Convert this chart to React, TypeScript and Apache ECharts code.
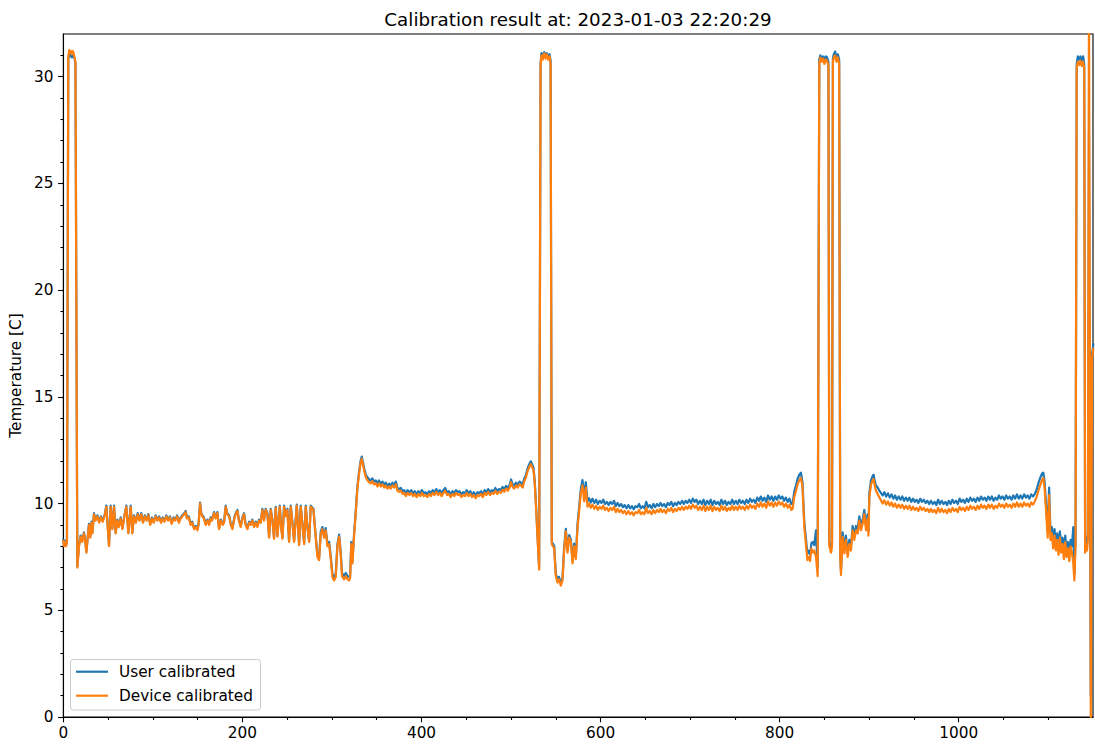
import { useEffect, useRef } from "react";
import * as echarts from "echarts";

const chartTitle = "Calibration result at: 2023-01-03 22:20:29";
const yAxisTitle = "Temperature [C]";
const seriesNames = ["User calibrated", "Device calibrated"];
const seriesColors = ["#1f77b4", "#ff7f0e"];
const xRange = [0, 1150];
const yRange = [0, 32];
const xMajorTicks = [0, 200, 400, 600, 800, 1000];
const xMinorTicks = [50, 100, 150, 250, 300, 350, 450, 500, 550, 650, 700, 750, 850, 900, 950, 1050, 1100];
const yMajorTicks = [0, 5, 10, 15, 20, 25, 30];
const yMinorTicks = [1, 2, 3, 4, 6, 7, 8, 9, 11, 12, 13, 14, 16, 17, 18, 19, 21, 22, 23, 24, 26, 27, 28, 29, 31];

const deviceCalibrated: number[][] = [
  [0,8.3],[1,8.0],[2,8.2],[3,8.0],[4,8.2],[5.5,30.9],[6.5,31.25],[7.5,31.1],[8.5,31.2],[9.5,31.05],[10.5,31.2],[11.5,31.1],[12.5,30.9],[13.5,30.7],
  [15.6,7.0],[17.5,8.0],[19.3,8.45],[21,8.2],[23,8.6],[24.5,8.2],[25.7,7.7],[27,8.3],[28.6,9.0],[30,8.4],[31.5,9.1],[32.4,8.6],[34.2,9.5],[36,9.2],[38,9.4],[40,9.1],[42,9.35],[44,9.15],[46,9.4],[48,9.85],[51,8.0],[52.8,9.85],[54.7,8.8],[56.6,9.85],[58.4,8.6],[60.3,9.2],[62,8.9],[64,9.3],[66,8.8],[68,9.35],[70.3,9.85],[72.6,8.6],[75.2,9.85],[77,8.6],[78.9,9.4],[81,9.1],[83,9.5],[85,9.2],[87,9.5],[89,9.1],[91,9.4],[93,9.2],[95,9.45],[97,9.0],[99,9.3],[101,9.1],[103,9.4],[105,9.2],[107,9.35],[109,9.1],[111,9.3],[113,9.15],[115,9.4],[117,9.2],[119,9.35],[121,9.05],[123,9.3],[125,9.2],[127,9.4],[129,9.1],[131,9.3],[133,9.4],[135,9.5],[136.6,9.6],[138,9.3],[140,9.35],[142.2,9.0],[144,9.1],[146,8.8],[148,8.9],[149.7,8.75],[151,9.0],[152.7,10.0],[154,9.5],[155.3,9.4],[157,9.3],[159,9.0],[161,9.2],[162.7,9.0],[164.5,9.3],[166,9.2],[168.3,9.55],[170,9.3],[172,9.55],[173.9,8.8],[176,9.2],[178,9.0],[179.5,9.1],[181.3,9.85],[183,9.5],[185.1,9.4],[187,9.0],[188.8,8.8],[191,9.3],[192.5,9.5],[194.4,9.65],[196,9.2],[198.1,8.9],[200,9.3],[201.8,9.5],[203.5,9.0],[205.5,8.8],[207.5,9.1],[209.3,9.0],[211,9.2],[213,8.9],[215,9.1],[216.7,8.9],[218.5,9.2],[220.4,9.1],[222.3,9.7],[224,9.2],[226,9.7],[227.9,9.5],[229.8,8.4],[231.6,9.7],[233.5,9.2],[235.3,8.35],[237.2,9.8],[239.1,8.45],[241.7,9.85],[243,9.0],[244.7,8.35],[246.5,9.85],[248.5,9.4],[250.2,9.7],[252.1,8.2],[254,9.85],[256,9.0],[257.7,8.2],[260.7,9.9],[263.3,8.05],[265.1,9.85],[267,9.0],[268.9,8.1],[270.7,9.85],[272.5,8.9],[274.5,8.2],[276.3,9.85],[279.3,9.7],[281.9,8.4],
  [283.7,7.5],[285.6,7.35],[287.5,8.6],[289.3,8.8],[291.2,8.4],[293,8.75],[294.9,8.0],[296.8,8.1],[298.7,7.4],[300.5,6.55],[302.4,6.4],[304.2,6.55],[306.1,8.0],[308,8.45],[309.8,7.6],[311.2,6.6],[313.6,6.45],[315.4,6.6],[317.3,6.45],[319.1,6.4],[320.3,6.5],[321.6,8.1],[322.9,7.2],[324.7,8.5],[326.5,9.5],[328.4,10.7],[330.3,11.4],[332,11.9],[333.3,12.1],[334.5,11.85],[335.9,11.55],
  [338,11.2],[339.6,11.1],[341.5,11.0],[343.4,10.95],[345,11.05],[347,10.9],[349,10.95],[350.8,10.8],[352.5,10.95],[354.5,10.8],[356.5,10.9],[358.3,10.75],[360,10.85],[362,10.7],[364,10.8],[365.7,10.7],[367.5,10.85],[369.5,10.75],[371.3,10.9],[373.2,10.6],[375,10.55],[377,10.6],[378.8,10.45],[380.6,10.5],[382.5,10.35],[384.5,10.5],[386.5,10.4],[388.5,10.5],[390.5,10.35],[392.5,10.45],[394.5,10.3],[396.5,10.45],[398.5,10.35],[400.5,10.5],[402.5,10.35],[404.5,10.4],[406.5,10.3],[408.5,10.45],[410.5,10.35],[412.5,10.5],[414.5,10.4],[416.5,10.55],[418.5,10.4],[420.5,10.5],[422.5,10.35],[424.5,10.5],[426.5,10.6],[428.5,10.4],[430.5,10.45],[432.5,10.3],[434.5,10.45],[436.5,10.35],[438.5,10.5],[440.5,10.4],[442.5,10.45],[444.5,10.3],[446.5,10.4],[448.5,10.35],[450.5,10.5],[452.5,10.35],[454.5,10.45],[456.5,10.3],[458.5,10.4],[460.5,10.25],[462.5,10.4],[464.5,10.35],[466.5,10.45],[468.5,10.3],[470.5,10.5],[472.5,10.4],[474.5,10.55],[476.5,10.4],[478.5,10.5],[480.5,10.45],[482.5,10.6],[484.5,10.45],[486.5,10.55],[488.5,10.5],[490.5,10.65],[492.5,10.55],[494.5,10.7],[496.5,10.6],[498.5,10.75],[500,11.0],[501.5,10.8],[503.5,10.7],[505.5,10.85],[507.5,10.75],[509.5,10.9],[511,10.85],[513,10.75],[514.7,11.05],[516.5,11.2],[518.4,11.5],[520.2,11.7],[522.1,11.85],[523.6,11.7],[525.1,11.55],[526.4,11.0],[527.7,10.0],[529.6,8.4],[531.4,6.9],
  [533,30.5],[534,31.0],[535.5,30.8],[537,31.1],[538.5,30.85],[540,31.05],[541.5,30.8],[543,30.95],[544.2,30.6],[545.5,8.1],
  [546.8,8.0],[548.2,7.9],[550,6.6],[551.9,6.3],[553.5,6.45],[555.6,6.15],[557.5,6.4],[559.3,7.8],[561.2,8.7],[563.1,7.7],[565,8.4],[566.8,8.2],[568.7,7.2],[570.5,8.0],[572.4,7.4],[574.3,8.9],[576.2,9.7],[578,10.5],[579.8,10.85],[581.7,10.1],[583.5,10.75],[585.4,9.85],[587.2,10.0],[589.1,9.8],
  [591,9.95],[593,9.75],[595,9.9],[597,9.7],[599,9.85],[601,9.75],[603,9.9],[605,9.7],[607,9.8],[609,9.65],[611,9.8],[613,9.7],[615,9.85],[617,9.6],[619,9.75],[621,9.6],[623,9.7],[625,9.55],[627,9.65],[629,9.5],[631,9.65],[633,9.5],[635,9.6],[637,9.45],[639,9.6],[641,9.55],[643,9.7],[645,9.5],[647,9.6],[649,9.5],[651,9.8],[653,9.55],[655,9.65],[657,9.5],[659,9.7],[661,9.55],[663,9.7],[665,9.6],[667,9.75],[669,9.6],[671,9.7],[673,9.55],[675,9.75],[677,9.65],[679,9.8],[681,9.6],[683,9.75],[685,9.65],[687,9.8],[689,9.7],[691,9.85],[693,9.7],[695,9.85],[697,9.75],[699,9.9],[701,9.75],[703,9.95],[705,9.8],[707,9.9],[709,9.7],[711,9.85],[713,9.7],[715,9.9],[717,9.65],[719,9.85],[721,9.7],[723,9.9],[725,9.65],[727,9.85],[729,9.7],[731,9.8],[733,9.65],[735,9.9],[737,9.7],[739,9.85],[741,9.65],[743,9.8],[745,9.7],[747,9.9],[749,9.7],[751,9.85],[753,9.7],[755,9.9],[757,9.75],[759,9.85],[761,9.7],[763,9.9],[765,9.75],[767,9.95],[769,9.8],[771,9.9],[773,9.75],[775,10.0],[777,9.85],[779,10.05],[781,9.85],[783,10.0],[785,9.8],[787,10.1],[789,9.9],[791,10.05],[793,9.85],[795,10.05],[797,9.9],[799,10.1],[801,9.95],[803,10.05],[805,9.85],[807,10.0],[809,9.8],[811,9.95],[813,9.7],
  [814.5,9.75],[816.3,10.3],[818.3,10.6],[820,10.9],[822,11.1],[823.8,11.2],[825.5,10.8],[827.6,8.9],[829.5,8.0],[831,7.35],[832.5,7.5],[834,7.3],[835.5,7.9],[837,7.7],[838.7,7.8],[840.6,7.5],[842.5,6.6],
  [844.3,30.6],[845.5,30.9],[847,30.7],[848.5,30.85],[850,30.6],[851.5,30.8],[853,30.75],[854.5,30.5],[855.5,8.0],[857.4,7.7],[858.5,8.0],[859.5,30.7],[860.5,30.9],[862,31.0],[863.5,30.7],[865,30.9],[866.5,30.6],[867.7,7.5],
  [868.5,6.65],[870.4,8.44],[872.3,7.66],[874,8.3],[876,7.5],[877.8,8.1],[879.7,7.8],[881.5,8.75],[883.4,8.3],[885.3,8.75],[887.2,8.6],[889,9.2],[890.9,8.75],[892.7,9.05],[894.6,9.5],[896.5,8.75],[898.3,9.3],[899.2,8.5],[900.2,10.3],[902.1,10.9],[904,11.1],[905,11.15],[906,10.9],[907.6,10.6],[909.5,10.45],[911.3,10.3],[913.2,10.15],
  [915,10.0],[917,10.15],[919,9.95],[921,10.1],[923,9.9],[925,10.05],[927,9.85],[929,10.0],[931,9.8],[933,9.95],[935,9.8],[937,9.95],[939,9.75],[941,9.9],[943,9.75],[945,9.9],[947,9.7],[949,9.85],[951,9.7],[953,9.8],[955,9.65],[957,9.85],[959,9.7],[961,9.8],[963,9.65],[965,9.75],[967,9.6],[969,9.75],[971,9.6],[973,9.7],[975,9.55],[977,9.8],[979,9.6],[981,9.75],[983,9.6],[985,9.7],[987,9.55],[989,9.75],[991,9.6],[993,9.8],[995,9.65],[997,9.75],[999,9.6],[1001,9.85],[1003,9.7],[1005,9.8],[1007,9.65],[1009,9.85],[1011,9.7],[1013,9.9],[1015,9.75],[1017,9.85],[1019,9.7],[1021,9.9],[1023,9.75],[1025,9.95],[1027,9.8],[1029,9.9],[1031,9.75],[1033,9.95],[1035,9.8],[1037,9.95],[1039,9.75],[1041,9.9],[1043,9.8],[1045,10.0],[1047,9.85],[1049,9.95],[1051,9.8],[1053,10.0],[1055,9.85],[1057,9.95],[1059,9.8],[1061,10.0],[1063,9.85],[1065,10.05],[1067,9.85],[1069,10.0],[1071,9.85],[1073,10.05],[1075,9.9],[1077,10.0],[1079,9.85],[1081,10.05],[1083,9.95],
  [1085,10.1],[1087,10.3],[1089,10.6],[1091,10.85],[1093,11.1],[1094.5,11.2],[1096,10.7],[1097.5,9.7],[1099.4,8.4],[1101,10.4],[1102.5,8.3],[1104,8.6],[1105.5,7.9],[1107,8.5],[1108.5,7.8],[1110,8.3],[1111.5,7.6],[1113,8.4],[1114.5,7.7],[1116,8.1],[1117.5,7.4],[1119,8.2],[1120.5,7.5],[1122,7.9],[1123.5,7.3],[1125,8.0],[1126.5,7.7],[1128,7.2],[1129.2,6.4],[1130.5,8.0],
  [1131.8,30.4],[1133,30.7],[1134.5,30.55],[1136,30.75],[1137.5,30.5],[1139,30.7],[1140.2,30.4],[1141.2,7.7],[1142.3,8.1],[1143.3,7.8],[1144.3,8.3],[1145.5,34],[1147.5,0],[1149,16.8],[1150.5,17.3]
];

const userCalibrated: number[][] = [
  [0,8.35],[1,8.05],[2,8.25],[3,8.05],[4,8.25],[5.5,30.8],[6.5,31.1],[7.5,31.0],[8.5,30.95],[9.5,30.9],[10.5,31.05],[11.5,31.0],[12.5,30.85],[13.5,30.6],
  [15.6,7.05],[17.5,8.05],[19.3,8.5],[21,8.25],[23,8.65],[24.5,8.25],[25.7,7.75],[27,8.35],[28.6,9.05],[30,8.45],[31.5,9.15],[32.4,8.65],[34.2,9.55],[36,9.25],[38,9.45],[40,9.15],[42,9.4],[44,9.2],[46,9.45],[48,9.9],[51,8.05],[52.8,9.9],[54.7,8.85],[56.6,9.9],[58.4,8.65],[60.3,9.25],[62,8.95],[64,9.35],[66,8.85],[68,9.4],[70.3,9.9],[72.6,8.65],[75.2,9.9],[77,8.65],[78.9,9.45],[81,9.15],[83,9.55],[85,9.25],[87,9.55],[89,9.15],[91,9.45],[93,9.25],[95,9.5],[97,9.05],[99,9.35],[101,9.15],[103,9.45],[105,9.25],[107,9.4],[109,9.15],[111,9.35],[113,9.2],[115,9.45],[117,9.25],[119,9.4],[121,9.1],[123,9.35],[125,9.25],[127,9.45],[129,9.15],[131,9.35],[133,9.45],[135,9.55],[136.6,9.65],[138,9.35],[140,9.4],[142.2,9.05],[144,9.15],[146,8.85],[148,8.95],[149.7,8.8],[151,9.05],[152.7,10.05],[154,9.55],[155.3,9.45],[157,9.35],[159,9.05],[161,9.25],[162.7,9.05],[164.5,9.35],[166,9.25],[168.3,9.6],[170,9.35],[172,9.6],[173.9,8.85],[176,9.25],[178,9.05],[179.5,9.15],[181.3,9.9],[183,9.55],[185.1,9.45],[187,9.05],[188.8,8.85],[191,9.35],[192.5,9.55],[194.4,9.7],[196,9.25],[198.1,8.95],[200,9.35],[201.8,9.55],[203.5,9.05],[205.5,8.85],[207.5,9.15],[209.3,9.05],[211,9.25],[213,8.95],[215,9.15],[216.7,8.95],[218.5,9.25],[220.4,9.15],[222.3,9.75],[224,9.25],[226,9.75],[227.9,9.55],[229.8,8.45],[231.6,9.75],[233.5,9.25],[235.3,8.4],[237.2,9.85],[239.1,8.5],[241.7,9.9],[243,9.05],[244.7,8.4],[246.5,9.9],[248.5,9.45],[250.2,9.75],[252.1,8.25],[254,9.9],[256,9.05],[257.7,8.25],[260.7,9.95],[263.3,8.1],[265.1,9.9],[267,9.05],[268.9,8.15],[270.7,9.9],[272.5,8.95],[274.5,8.25],[276.3,9.9],[279.3,9.75],[281.9,8.45],
  [283.7,7.58],[285.6,7.45],[287.5,8.7],[289.3,8.9],[291.2,8.5],[293,8.85],[294.9,8.1],[296.8,8.2],[298.7,7.5],[300.5,6.7],[302.4,6.55],[304.2,6.7],[306.1,8.1],[308,8.55],[309.8,7.7],[311.2,6.75],[313.6,6.6],[315.4,6.75],[317.3,6.6],[319.1,6.55],[320.3,6.65],[321.6,8.2],[322.9,7.3],[324.7,8.6],[326.5,9.6],[328.4,10.8],[330.3,11.5],[332,12.0],[333.3,12.2],[334.5,11.95],[335.9,11.65],
  [338,11.33],[339.6,11.23],[341.5,11.13],[343.4,11.08],[345,11.18],[347,11.03],[349,11.08],[350.8,10.93],[352.5,11.08],[354.5,10.93],[356.5,11.03],[358.3,10.88],[360,10.98],[362,10.83],[364,10.93],[365.7,10.83],[367.5,10.98],[369.5,10.88],[371.3,11.03],[373.2,10.73],[375,10.68],[377,10.73],[378.8,10.58],[380.6,10.63],[382.5,10.48],[384.5,10.63],[386.5,10.53],[388.5,10.63],[390.5,10.48],[392.5,10.58],[394.5,10.43],[396.5,10.58],[398.5,10.48],[400.5,10.63],[402.5,10.48],[404.5,10.53],[406.5,10.43],[408.5,10.58],[410.5,10.48],[412.5,10.63],[414.5,10.53],[416.5,10.68],[418.5,10.53],[420.5,10.63],[422.5,10.48],[424.5,10.63],[426.5,10.73],[428.5,10.53],[430.5,10.58],[432.5,10.43],[434.5,10.58],[436.5,10.48],[438.5,10.63],[440.5,10.53],[442.5,10.58],[444.5,10.43],[446.5,10.53],[448.5,10.48],[450.5,10.63],[452.5,10.48],[454.5,10.58],[456.5,10.43],[458.5,10.53],[460.5,10.38],[462.5,10.53],[464.5,10.48],[466.5,10.58],[468.5,10.43],[470.5,10.63],[472.5,10.53],[474.5,10.68],[476.5,10.53],[478.5,10.63],[480.5,10.58],[482.5,10.73],[484.5,10.58],[486.5,10.68],[488.5,10.63],[490.5,10.78],[492.5,10.68],[494.5,10.83],[496.5,10.73],[498.5,10.88],[500,11.13],[501.5,10.93],[503.5,10.83],[505.5,10.98],[507.5,10.88],[509.5,11.03],[511,10.98],[513,10.88],[514.7,11.18],[516.5,11.33],[518.4,11.63],[520.2,11.83],[522.1,11.98],[523.6,11.83],[525.1,11.68],[526.4,11.1],[527.7,10.1],[529.6,8.5],[531.4,7.0],
  [533,30.6],[534,31.1],[535.5,30.95],[537,31.15],[538.5,31.0],[540,31.1],[541.5,30.95],[543,31.05],[544.2,30.75],[545.5,8.2],
  [546.8,8.12],[548.2,8.02],[550,6.72],[551.9,6.42],[553.5,6.57],[555.6,6.27],[557.5,6.52],[559.3,7.92],[561.2,8.82],[563.1,7.82],[565,8.52],[566.8,8.32],[568.7,7.32],[570.5,8.12],[572.4,7.52],[574.3,9.05],[576.2,9.9],[578,10.7],[579.8,11.1],[581.7,10.35],[583.5,11.0],[585.4,10.1],[587.2,10.25],[589.1,10.05],
  [591,10.23],[593,10.03],[595,10.18],[597,9.98],[599,10.13],[601,10.03],[603,10.18],[605,9.98],[607,10.08],[609,9.93],[611,10.08],[613,9.98],[615,10.13],[617,9.88],[619,10.03],[621,9.88],[623,9.98],[625,9.83],[627,9.93],[629,9.78],[631,9.93],[633,9.78],[635,9.88],[637,9.73],[639,9.88],[641,9.83],[643,9.98],[645,9.78],[647,9.88],[649,9.78],[651,10.08],[653,9.83],[655,9.93],[657,9.78],[659,9.98],[661,9.83],[663,9.98],[665,9.88],[667,10.03],[669,9.88],[671,9.98],[673,9.83],[675,10.03],[677,9.93],[679,10.08],[681,9.88],[683,10.03],[685,9.93],[687,10.08],[689,9.98],[691,10.13],[693,9.98],[695,10.13],[697,10.03],[699,10.18],[701,10.03],[703,10.23],[705,10.08],[707,10.18],[709,9.98],[711,10.13],[713,9.98],[715,10.18],[717,9.93],[719,10.13],[721,9.98],[723,10.18],[725,9.93],[727,10.13],[729,9.98],[731,10.08],[733,9.93],[735,10.18],[737,9.98],[739,10.13],[741,9.93],[743,10.08],[745,9.98],[747,10.18],[749,9.98],[751,10.13],[753,9.98],[755,10.18],[757,10.03],[759,10.13],[761,9.98],[763,10.18],[765,10.03],[767,10.23],[769,10.08],[771,10.18],[773,10.03],[775,10.28],[777,10.13],[779,10.33],[781,10.13],[783,10.28],[785,10.08],[787,10.38],[789,10.18],[791,10.33],[793,10.13],[795,10.33],[797,10.18],[799,10.38],[801,10.23],[803,10.33],[805,10.13],[807,10.28],[809,10.08],[811,10.23],[813,9.98],
  [814.5,10.0],[816.3,10.55],[818.3,10.85],[820,11.15],[822,11.35],[823.8,11.45],[825.5,11.0],[827.6,9.1],[829.5,8.3],[831,7.65],[832.5,7.8],[834,7.6],[835.5,8.15],[837,8.2],[838.7,8.05],[840.6,8.75],[842.5,7.0],
  [844.3,30.8],[845.5,31.0],[847,30.85],[848.5,30.95],[850,30.75],[851.5,30.95],[853,30.9],[854.5,30.7],[855.5,8.2],[857.4,7.9],[858.5,8.2],[859.5,30.85],[860.5,31.05],[862,31.18],[863.5,30.9],[865,31.05],[866.5,30.8],[867.7,7.7],
  [868.5,6.85],[870.4,8.65],[872.3,7.86],[874,8.5],[876,7.7],[877.8,8.3],[879.7,8.0],[881.5,8.95],[883.4,8.5],[885.3,8.95],[887.2,8.8],[889,9.4],[890.9,8.95],[892.7,9.25],[894.6,9.7],[896.5,8.95],[898.3,9.5],[899.2,8.7],[900.2,10.5],[902.1,11.1],[904,11.3],[905,11.35],[906,11.1],[907.6,10.85],[909.5,10.75],[911.3,10.6],[913.2,10.5],
  [915,10.38],[917,10.53],[919,10.33],[921,10.48],[923,10.28],[925,10.43],[927,10.23],[929,10.38],[931,10.18],[933,10.33],[935,10.18],[937,10.33],[939,10.13],[941,10.28],[943,10.13],[945,10.28],[947,10.08],[949,10.23],[951,10.08],[953,10.18],[955,10.03],[957,10.23],[959,10.08],[961,10.18],[963,10.03],[965,10.13],[967,9.98],[969,10.13],[971,9.98],[973,10.08],[975,9.93],[977,10.18],[979,9.98],[981,10.13],[983,9.98],[985,10.08],[987,9.93],[989,10.13],[991,9.98],[993,10.18],[995,10.03],[997,10.13],[999,9.98],[1001,10.23],[1003,10.08],[1005,10.18],[1007,10.03],[1009,10.23],[1011,10.08],[1013,10.28],[1015,10.13],[1017,10.23],[1019,10.08],[1021,10.28],[1023,10.13],[1025,10.33],[1027,10.18],[1029,10.28],[1031,10.13],[1033,10.33],[1035,10.18],[1037,10.33],[1039,10.13],[1041,10.28],[1043,10.18],[1045,10.38],[1047,10.23],[1049,10.33],[1051,10.18],[1053,10.38],[1055,10.23],[1057,10.33],[1059,10.18],[1061,10.38],[1063,10.23],[1065,10.43],[1067,10.23],[1069,10.38],[1071,10.23],[1073,10.43],[1075,10.28],[1077,10.38],[1079,10.23],[1081,10.43],[1083,10.33],
  [1085,10.45],[1087,10.65],[1089,10.95],[1091,11.2],[1093,11.4],[1094.5,11.45],[1096,11.0],[1097.5,10.0],[1099.4,8.8],[1101,10.75],[1102.5,8.6],[1104,8.9],[1105.5,8.2],[1107,8.8],[1108.5,8.1],[1110,8.6],[1111.5,7.9],[1113,8.7],[1114.5,8.0],[1116,8.4],[1117.5,7.7],[1119,8.5],[1120.5,7.8],[1122,8.2],[1123.5,7.6],[1125,8.3],[1126.5,8.0],[1128,8.9],[1129.2,6.7],[1130.5,8.3],
  [1131.8,30.6],[1133,30.95],[1134.5,30.8],[1136,30.95],[1137.5,30.75],[1139,30.95],[1140.2,30.6],[1141.2,8.0],[1142.3,8.4],[1143.3,8.1],[1144.3,8.6],[1145.5,27.4],[1147.5,1.0],[1149,17.0],[1150.5,17.5]
];

const FONT = "DejaVu Sans";

export default function App() {
  const ref = useRef<HTMLDivElement>(null);
  useEffect(() => {
    if (!ref.current) return;
    const chart = echarts.init(ref.current, undefined, { renderer: "svg" });
    const tickLine = { color: "#000", width: 1.1 };
    const labelStyle = { color: "#000", fontSize: 15.3, fontFamily: FONT, formatter: (v: number) => String(v) };
    chart.setOption({
      animation: false,
      backgroundColor: "#ffffff",
      textStyle: { fontFamily: FONT },
      grid: { left: 63, right: 2, top: 34, bottom: 27, show: true, borderColor: "#000", borderWidth: 1.1, backgroundColor: "transparent" },
      xAxis: [
        {
          type: "value", min: xRange[0], max: xRange[1],
          axisLine: { show: true, lineStyle: tickLine },
          axisTick: { show: true, length: 5.3, customValues: xMajorTicks, lineStyle: tickLine },
          axisLabel: { ...labelStyle, customValues: xMajorTicks, margin: 8 },
          splitLine: { show: false },
        },
        {
          type: "value", min: xRange[0], max: xRange[1], position: "bottom",
          axisLine: { show: false },
          axisTick: { show: true, length: 3, customValues: xMinorTicks, lineStyle: tickLine },
          axisLabel: { show: false },
          splitLine: { show: false },
        },
      ],
      yAxis: [
        {
          type: "value", min: yRange[0], max: yRange[1],
          name: yAxisTitle, nameLocation: "middle", nameGap: 37,
          nameTextStyle: { color: "#000", fontSize: 15.3, fontFamily: FONT },
          axisLine: { show: true, lineStyle: tickLine },
          axisTick: { show: true, length: 5.3, customValues: yMajorTicks, lineStyle: tickLine },
          axisLabel: { ...labelStyle, customValues: yMajorTicks, margin: 10 },
          splitLine: { show: false },
        },
        {
          type: "value", min: yRange[0], max: yRange[1], position: "left",
          axisLine: { show: false },
          axisTick: { show: true, length: 3, customValues: yMinorTicks, lineStyle: tickLine },
          axisLabel: { show: false },
          splitLine: { show: false },
        },
      ],
      series: [
        {
          name: seriesNames[0], type: "line", data: userCalibrated, xAxisIndex: 0, yAxisIndex: 0,
          showSymbol: false, symbol: "none", clip: true,
          lineStyle: { color: seriesColors[0], width: 2.2, join: "round" }, itemStyle: { color: seriesColors[0] },
        },
        {
          name: seriesNames[1], type: "line", data: deviceCalibrated, xAxisIndex: 0, yAxisIndex: 0,
          showSymbol: false, symbol: "none", clip: true,
          lineStyle: { color: seriesColors[1], width: 2.2, join: "round" }, itemStyle: { color: seriesColors[1] },
        },
      ],
      graphic: [
        {
          type: "text", x: 578, y: 19, z: 100,
          style: { text: chartTitle, fill: "#000", fontSize: 18.3, fontFamily: FONT, align: "center", verticalAlign: "middle", textAlign: "center", textVerticalAlign: "middle" },
        },
        {
          type: "rect", z: 100, shape: { x: 70.5, y: 659.5, width: 190, height: 50.5, r: 3 },
          style: { fill: "rgba(255,255,255,0.8)", stroke: "#cccccc", lineWidth: 1 },
        },
        { type: "line", z: 101, shape: { x1: 76, y1: 671.7, x2: 108, y2: 671.7 }, style: { stroke: seriesColors[0], lineWidth: 2.2 } },
        { type: "line", z: 101, shape: { x1: 76, y1: 695.7, x2: 108, y2: 695.7 }, style: { stroke: seriesColors[1], lineWidth: 2.2 } },
        {
          type: "text", x: 119, y: 671.7, z: 101,
          style: { text: seriesNames[0], fill: "#000", fontSize: 15.3, fontFamily: FONT, verticalAlign: "middle", textVerticalAlign: "middle" },
        },
        {
          type: "text", x: 119, y: 695.7, z: 101,
          style: { text: seriesNames[1], fill: "#000", fontSize: 15.3, fontFamily: FONT, verticalAlign: "middle", textVerticalAlign: "middle" },
        },
      ],
    });
    return () => chart.dispose();
  }, []);
  return <div ref={ref} style={{ position: "fixed", left: 0, top: 0, width: 1095, height: 744 }} />;
}
